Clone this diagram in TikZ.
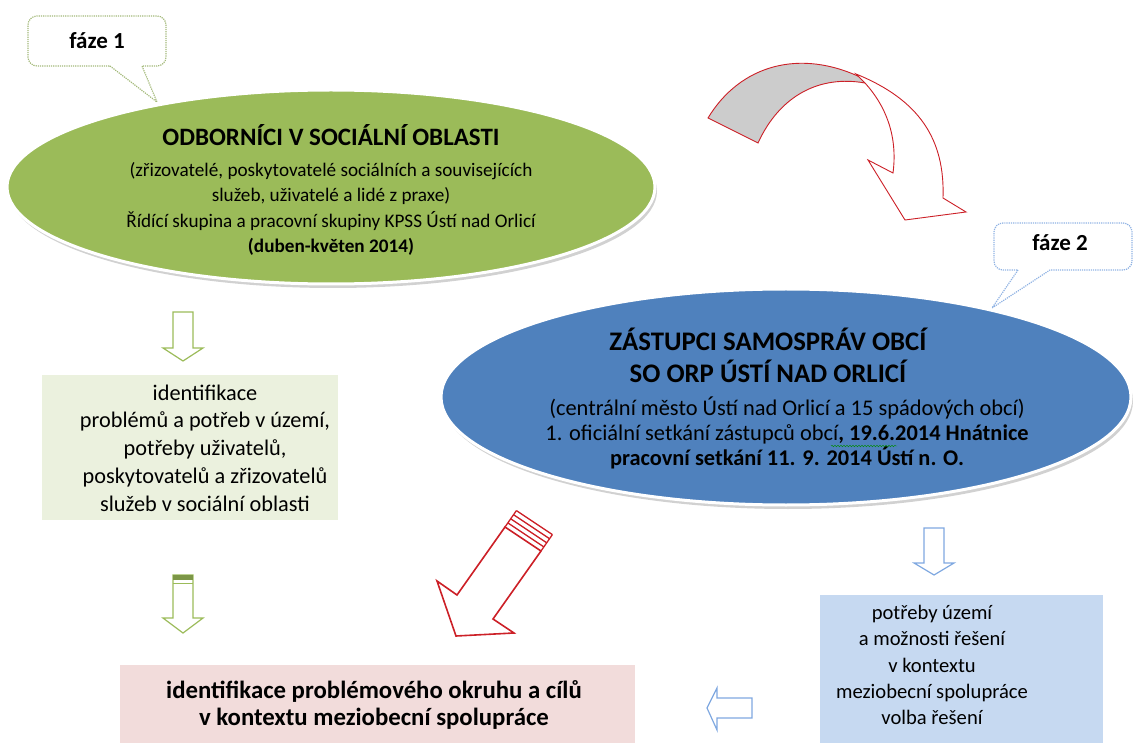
\documentclass[tikz,border=0pt]{standalone}
\usepackage{fontspec}
\setmainfont{Carlito}
\usepackage{xcolor}
\usepackage{tikz}
\usetikzlibrary{shapes.geometric}
\usetikzlibrary{shadows}
\usetikzlibrary{decorations.pathmorphing}
\definecolor{olgreen}{HTML}{9BBB59}
\definecolor{olblue}{HTML}{4F81BD}
\definecolor{boxgreen}{HTML}{EBF1DE}
\definecolor{boxpink}{HTML}{F2DCDB}
\definecolor{boxblue}{HTML}{C6D9F1}
\definecolor{arrred}{HTML}{CC2027}
\definecolor{arrblue}{HTML}{7FA8E0}
\definecolor{callgreen}{HTML}{A3B97A}
\definecolor{callblue}{HTML}{8FB2E3}
\newcommand{\blockdown}[5][]{%
\draw [#1] (#2-10,#3) -- (#2+10,#3) -- (#2+10,#4) -- (#2+20,#4)
    -- (#2,#5) -- (#2-20,#4) -- (#2-10,#4) -- cycle;
}
\tikzstyle{phase} = [ellipse, draw=white, line width=3pt, inner sep=0pt,
drop shadow={shadow xshift=2pt, shadow yshift=-4pt, fill=gray!60, opacity=.6}]
\tikzstyle{infobox} = [rectangle, inner sep=0pt]
\tikzstyle{calltext} = [font=\fontsize{23}{26}\selectfont\bfseries]
\tikzstyle{boxtext} = [align=center, font=\fontsize{22.3}{27.8}\selectfont]
\begin{document}
\begin{tikzpicture}[x=1pt, y=-1pt]
        \useasboundingbox (0,0) rectangle (1133,743);
        % phase 1
        \node [phase, fill=olgreen, minimum width=648pt, minimum height=194pt] (expert) at (331,187) {};
        \node [font=\fontsize{25}{28}\selectfont\bfseries] (experttitle) at (331,135) {ODBORNÍCI V SOCIÁLNÍ OBLASTI};
        \node [align=center, font=\fontsize{19.2}{25.5}\selectfont] (experttext) at (331,209) {%
            (zřizovatelé, poskytovatelé sociálních a souvisejících\\
            služeb, uživatelé a lidé z praxe)\\
            Řídící skupina a pracovní skupiny KPSS Ústí nad Orlicí\\
            \textbf{(duben-květen 2014)}};
        \draw [callgreen, densely dotted, line width=1.2pt]
            (110,66) -- (157,102) -- (142,66) [rounded corners=9pt] -- (166,66)
            -- (166,16) -- (28,16) -- (28,66) -- (110,66);
        \node [calltext] (phaseone) at (97,41) {fáze 1};
        % phase 2
        \node [phase, fill=olblue, minimum width=690pt, minimum height=216pt] (mayors) at (786,397) {};
        \node [align=center, font=\fontsize{26.8}{32}\selectfont\bfseries] (mayorstitle) at (768,355) {%
            ZÁSTUPCI SAMOSPRÁV OBCÍ\\SO ORP ÚSTÍ NAD ORLICÍ};
        \node [align=center, font=\fontsize{22.4}{25}\selectfont] (mayorstext) at (787,433) {%
            (centrální město Ústí nad Orlicí a 15 spádových obcí)\\
            1. oficiální setkání zástupců obcí\textbf{, 19.6.2014 Hnátnice}\\
            \textbf{pracovní setkání 11. 9. 2014 Ústí n. O.}};
        \draw [green!55!black, decorate, decoration={snake, amplitude=0.8pt, segment length=3pt}]
            (831,446) -- (897,446);
        \draw [callblue, densely dotted, line width=1.2pt]
            (1018,270) -- (992,308) -- (1050,270) [rounded corners=9pt] -- (1132,270)
            -- (1132,223) -- (994,223) -- (994,270) -- (1018,270);
        \node [calltext] (phasetwo) at (1060,243) {fáze 2};
        % curved arrow from phase 1 to phase 2
        \draw [arrred, fill=gray!40, line width=0.9pt]
            (708,118) .. controls (740,65) and (800,48) .. (862,78)
            -- (865,83) .. controls (820,75) and (780,95) .. (758,143) -- cycle;
        \draw [arrred, fill=white, line width=0.9pt]
            (856,74) .. controls (920,100) and (945,140) .. (943,198)
            -- (966,212) -- (905,220) -- (868,160) -- (893,173)
            .. controls (898,135) and (885,105) .. (865,83) -- cycle;
        % outputs
        \node [infobox, fill=boxgreen, minimum width=296pt, minimum height=145pt] (needsbox) at (190,447.5) {};
        \node [boxtext] (needstext) at (205,448) {%
            identifikace\\problémů a potřeb v území,\\potřeby uživatelů,\\
            poskytovatelů a zřizovatelů\\služeb v sociální oblasti};
        \node [infobox, fill=boxpink, minimum width=515pt, minimum height=80pt] (goalbox) at (377.5,705) {};
        \node [align=center, font=\fontsize{24.8}{26.5}\selectfont\bfseries] (goaltext) at (374,705) {%
            identifikace problémového okruhu a cílů\\v kontextu meziobecní spolupráce};
        \node [infobox, fill=boxblue, minimum width=283pt, minimum height=150pt] (solvebox) at (961.5,670) {};
        \node [boxtext, font=\fontsize{20.6}{26.3}\selectfont] (solvetext) at (932,665) {%
            potřeby území\\a možnosti řešení\\v kontextu\\meziobecní spolupráce\\volba řešení};
        % block arrows
        \blockdown[olgreen, line width=1.2pt]{183}{312}{348}{361}
        \blockdown[olgreen, line width=1.2pt]{183}{575}{618}{633}
        \fill [olgreen!80!black] (173,575) rectangle (193,580);
        \draw [olgreen, line width=1pt] (173,583) -- (193,583);
        \blockdown[arrblue, line width=1.2pt]{934}{528}{563}{575}
        \draw [arrblue, line width=1.2pt] (752,698) -- (752,718) -- (717,718) -- (717,730)
            -- (707,708) -- (717,688) -- (717,698) -- cycle;
        \draw [arrred, line width=1.6pt] (505,527) -- (457,595) -- (437,581) -- (456,636)
            -- (514,633) -- (493,619) -- (541,551) -- cycle;
        \foreach \off in {5,10,15,20}
            \draw [arrred, line width=1.3pt] (505+0.57*\off,527-0.82*\off) -- (541+0.57*\off,551-0.82*\off);
        \draw [arrred, line width=1.3pt] (505,527) -- (505+0.57*20,527-0.82*20)
            (541,551) -- (541+0.57*20,551-0.82*20);
    \end{tikzpicture}
\end{document}
